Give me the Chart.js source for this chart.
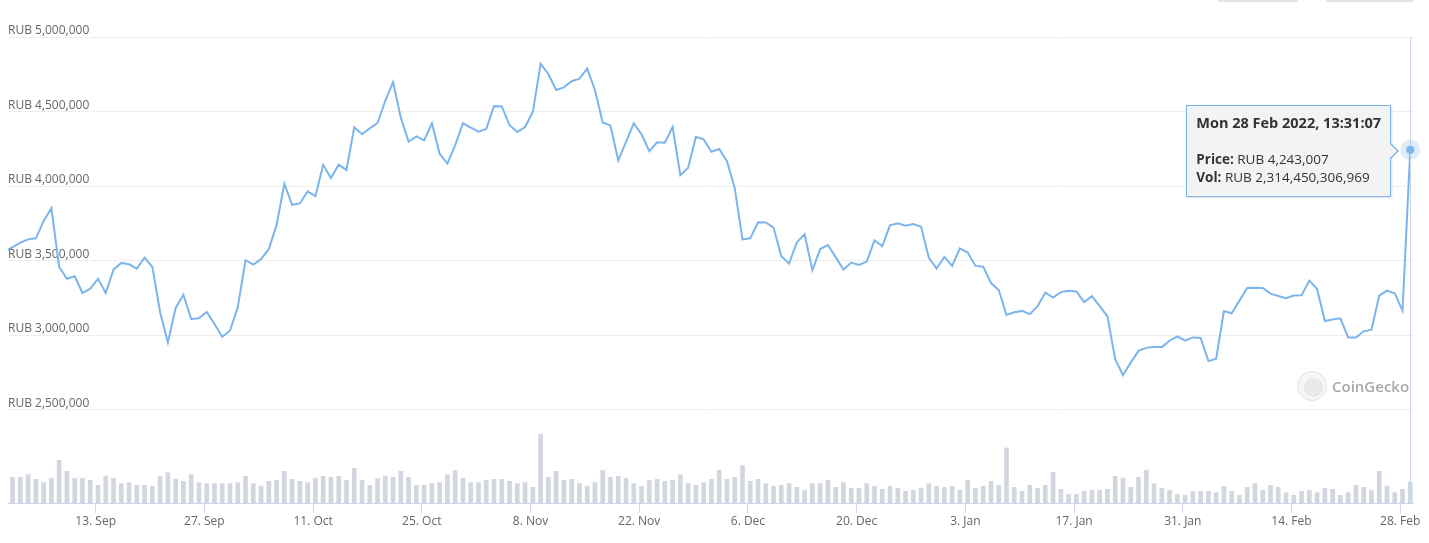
<!DOCTYPE html>
<html>
<head>
<meta charset="utf-8">
<script src="https://cdn.jsdelivr.net/npm/chart.js@4.4.1/dist/chart.umd.min.js"></script>
<style>
  body { margin: 0; background: #fff; font-family: 'Open Sans', sans-serif; }
  #wrap { position: relative; width: 1429px; height: 543px; overflow: hidden; }
  .btn { position: absolute; top: 0; height: 2px; background: #e4e4e4; }
  #tip {
    position: absolute; display: none; box-sizing: border-box;
    width: 205px; height: 92px; padding: 8px 9px 0 9px;
    background: #f3f3f3; border: 1px solid #7cb5ec;
    box-shadow: 1px 1px 2px rgba(0,0,0,0.12);
    font-family: 'Open Sans', sans-serif;
    font-size: 13.5px; line-height: 18px; color: #333; white-space: nowrap;
  }
  #tip .ttl { font-size: 14.5px; font-weight: 700; line-height: 18px; margin-bottom: 18px; }
  #tip b { font-weight: 700; }
  #tip::before {
    content: ''; position: absolute; right: -9px; top: 37px;
    border-left: 8px solid #7cb5ec; border-top: 8px solid transparent; border-bottom: 8px solid transparent;
  }
  #tip::after {
    content: ''; position: absolute; right: -7px; top: 38px;
    border-left: 7px solid #f3f3f3; border-top: 7px solid transparent; border-bottom: 7px solid transparent;
  }
  #logo { position: absolute; left: 1297px; top: 371px; display: flex; align-items: center; }
  #logo .ring { width: 28px; height: 28px; border-radius: 50%; border: 1px solid #e2e2e2; background: radial-gradient(circle at 55% 55%, #e9e9e9 0 9px, #f6f6f6 10px); }
  #logo span { margin-left: 5px; font-size: 15px; font-weight: 600; color: #a9a9a9; }
</style>
</head>
<body>
<div id="wrap">
  <canvas id="price-chart" width="1429" height="543"></canvas>
  <div class="btn" style="left:1218px;width:80px"></div>
  <div class="btn" style="left:1326px;width:87px"></div>
  <div id="logo"><div class="ring"></div><span>CoinGecko</span></div>
  <div id="tip"></div>
</div>
<script>
// days counted from 1 Sep 2021 00:00
const firstDay = 0.3;
const latestLabel = 'Mon 28 Feb 2022, 13:31:07';

const prices = [
  3560000, 3590000, 3620000, 3642000, 3649000, 3766000, 3851000, 3457000, 3378000, 3394000,
  3282000, 3311000, 3378000, 3282000, 3439000, 3484000, 3475000, 3446000, 3520000, 3457000,
  3153000, 2950000, 3182000, 3270000, 3108000, 3113000, 3155000, 3074000, 2989000, 3029000,
  3187000, 3502000, 3473000, 3509000, 3577000, 3739000, 4016000, 3874000, 3883000, 3964000,
  3932000, 4142000, 4054000, 4144000, 4108000, 4394000, 4347000, 4387000, 4423000, 4572000,
  4698000, 4459000, 4297000, 4333000, 4306000, 4421000, 4216000, 4151000, 4275000, 4421000,
  4392000, 4365000, 4383000, 4536000, 4534000, 4408000, 4363000, 4396000, 4498000, 4820000,
  4752000, 4644000, 4662000, 4703000, 4721000, 4788000, 4644000, 4426000, 4405000, 4171000,
  4297000, 4421000, 4347000, 4234000, 4293000, 4291000, 4396000, 4072000, 4122000, 4331000,
  4313000, 4230000, 4248000, 4167000, 3986000, 3642000, 3649000, 3757000, 3755000, 3721000,
  3529000, 3480000, 3622000, 3676000, 3435000, 3577000, 3604000, 3523000, 3439000, 3486000,
  3471000, 3493000, 3635000, 3597000, 3736000, 3750000, 3734000, 3745000, 3727000, 3518000,
  3446000, 3525000, 3464000, 3581000, 3554000, 3464000, 3459000, 3349000, 3302000, 3135000,
  3153000, 3162000, 3140000, 3194000, 3284000, 3252000, 3288000, 3297000, 3293000, 3221000,
  3261000, 3194000, 3126000, 2838000, 2730000, 2815000, 2894000, 2914000, 2921000, 2919000,
  2962000, 2991000, 2962000, 2984000, 2980000, 2825000, 2841000, 3161000, 3146000, 3231000,
  3316000, 3318000, 3316000, 3278000, 3262000, 3247000, 3265000, 3267000, 3365000, 3309000,
  3094000, 3105000, 3112000, 2984000, 2984000, 3025000, 3036000, 3265000, 3298000, 3280000,
  3164000, 4243007
];

const volumes = [
  2.70e12,
  2.83e12, 2.83e12, 3.12e12, 2.61e12, 2.24e12, 2.72e12, 4.70e12, 3.49e12, 2.72e12, 2.72e12,
  2.50e12, 1.94e12, 2.94e12, 2.72e12, 2.13e12, 2.24e12, 1.94e12, 1.94e12, 1.84e12, 2.94e12,
  3.34e12, 2.61e12, 2.39e12, 3.12e12, 2.24e12, 2.13e12, 2.13e12, 2.13e12, 2.13e12, 2.24e12,
  2.94e12, 2.13e12, 1.84e12, 2.39e12, 2.50e12, 3.49e12, 2.61e12, 2.39e12, 2.24e12, 2.72e12,
  2.94e12, 2.83e12, 2.94e12, 2.50e12, 3.82e12, 2.50e12, 1.94e12, 2.68e12, 2.94e12, 2.83e12,
  3.49e12, 2.83e12, 1.94e12, 1.94e12, 2.13e12, 2.24e12, 3.12e12, 3.56e12, 2.72e12, 2.24e12,
  2.24e12, 2.50e12, 2.61e12, 2.61e12, 2.39e12, 2.13e12, 2.24e12, 1.72e12, 7.56e12, 2.83e12,
  3.49e12, 2.50e12, 2.61e12, 2.13e12, 1.84e12, 2.24e12, 3.60e12, 2.83e12, 2.94e12, 2.72e12,
  2.13e12, 1.84e12, 2.50e12, 2.61e12, 2.39e12, 2.50e12, 3.12e12, 2.13e12, 1.94e12, 2.24e12,
  2.61e12, 3.60e12, 2.61e12, 2.83e12, 4.11e12, 2.39e12, 2.61e12, 2.13e12, 1.84e12, 1.94e12,
  2.13e12, 1.72e12, 1.39e12, 2.13e12, 2.13e12, 2.50e12, 1.72e12, 2.24e12, 1.61e12, 1.61e12,
  2.13e12, 1.84e12, 1.50e12, 1.84e12, 1.61e12, 1.28e12, 1.39e12, 1.61e12, 2.13e12, 1.84e12,
  1.72e12, 1.84e12, 1.39e12, 2.50e12, 1.61e12, 1.84e12, 2.39e12, 1.94e12, 6.06e12, 1.72e12,
  1.28e12, 1.94e12, 1.61e12, 1.94e12, 3.38e12, 1.50e12, 0.95e12, 0.95e12, 1.28e12, 1.39e12,
  1.39e12, 1.50e12, 2.94e12, 2.72e12, 1.72e12, 2.83e12, 3.60e12, 2.13e12, 1.61e12, 1.39e12,
  0.95e12, 0.84e12, 1.28e12, 1.28e12, 1.28e12, 1.14e12, 1.84e12, 1.28e12, 0.84e12, 1.72e12,
  2.13e12, 1.39e12, 1.94e12, 1.72e12, 1.14e12, 0.84e12, 1.28e12, 1.39e12, 1.14e12, 1.61e12,
  1.50e12, 0.84e12, 1.14e12, 1.94e12, 1.72e12, 1.39e12, 3.49e12, 1.84e12, 1.14e12, 1.50e12,
  2314450306969
];

const tickDays = [12, 26, 40, 54, 68, 82, 96, 110, 124, 138, 152, 166, 180];
const tickLabels = ['13. Sep', '27. Sep', '11. Oct', '25. Oct', '8. Nov', '22. Nov', '6. Dec',
  '20. Dec', '3. Jan', '17. Jan', '31. Jan', '14. Feb', '28. Feb'];
const priceTicks = [2500000, 3000000, 3500000, 4000000, 4500000, 5000000];

const fmt = v => v.toLocaleString('en-US');
const lineColor = '#7cb5ec';

function externalTip(context) {
  const tt = context.tooltip;
  const el = document.getElementById('tip');
  if (tt.opacity === 0 || !tt.dataPoints || !tt.dataPoints.length) { el.style.display = 'none'; return; }
  const i = tt.dataPoints[0].dataIndex;
  el.innerHTML = '<div class="ttl">' + latestLabel + '</div>' +
    '<b>Price:</b> RUB ' + fmt(prices[i]) + '<br>' +
    '<b>Vol:</b> RUB ' + fmt(volumes[i]);
  el.style.display = 'block';
  el.style.left = (tt.caretX - 224) + 'px';
  el.style.top = (tt.caretY - 45) + 'px';
}

// crosshair + halo on the hovered point
const hoverMark = {
  id: 'hoverMark',
  afterDatasetsDraw(chart) {
    const act = chart.getActiveElements();
    if (!act.length) return;
    const pt = act[0].element;
    const { ctx, chartArea } = chart;
    ctx.save();
    const x = Math.round(pt.x) + 0.5;
    ctx.strokeStyle = '#ccd6eb';
    ctx.lineWidth = 1;
    ctx.beginPath();
    ctx.moveTo(x, chartArea.top);
    ctx.lineTo(x, chartArea.bottom);
    ctx.stroke();
    ctx.fillStyle = 'rgba(124,181,236,0.25)';
    ctx.beginPath(); ctx.arc(pt.x, pt.y, 10, 0, Math.PI * 2); ctx.fill();
    ctx.fillStyle = lineColor;
    ctx.beginPath(); ctx.arc(pt.x, pt.y, 4, 0, Math.PI * 2); ctx.fill();
    ctx.restore();
  }
};

const ctx = document.getElementById('price-chart').getContext('2d');

const chart = new Chart(ctx, {
  data: {
    datasets: [
      {
        type: 'line',
        label: 'Price',
        data: prices.map((p, i) => ({ x: firstDay + i, y: p })),
        yAxisID: 'y',
        borderColor: lineColor,
        borderWidth: 2,
        pointRadius: 0,
        pointHoverRadius: 0,
        tension: 0,
        order: 0
      },
      {
        type: 'bar',
        label: 'Vol',
        data: volumes.map((v, i) => ({ x: firstDay + i, y: v })),
        yAxisID: 'yVol',
        backgroundColor: '#d2d6de',
        barThickness: 4,
        order: 1
      }
    ]
  },
  options: {
    responsive: false,
    animation: false,
    events: [],
    layout: { padding: { left: 8, right: 16, top: 37, bottom: 0 } },
    plugins: {
      legend: { display: false },
      tooltip: { enabled: false, external: externalTip, mode: 'nearest', intersect: false }
    },
    scales: {
      x: {
        type: 'linear',
        offset: false,
        min: 0.71,
        max: 181.65,
        afterBuildTicks: s => { s.ticks = tickDays.map(v => ({ value: v })); },
        afterFit: s => { s.height = 40; s.paddingLeft = 0; s.paddingRight = 0; },
        ticks: {
          autoSkip: false, maxRotation: 0, padding: 1,
          color: '#666', font: { family: 'Open Sans', size: 12 },
          callback: v => tickLabels[tickDays.indexOf(v)]
        },
        grid: { offset: false, drawOnChartArea: false, tickLength: 10, color: '#ccd6eb' },
        border: { color: '#ccd6eb' }
      },
      y: {
        position: 'left',
        min: 1873000,
        max: 5000000,
        afterBuildTicks: s => { s.ticks = priceTicks.map(v => ({ value: v })); },
        afterFit: s => { s.width = 0; s.paddingTop = 0; s.paddingBottom = 0; },
        ticks: {
          mirror: true, padding: 0, labelOffset: -6,
          color: '#666', font: { family: 'Open Sans', size: 12 },
          callback: v => 'RUB ' + fmt(v)
        },
        grid: { drawTicks: false, color: '#eeeeee' },
        border: { display: false }
      },
      yVol: { display: false, min: 0, max: 51.3e12 }
    }
  },
  plugins: [hoverMark]
});

const last = prices.length - 1;
chart.setActiveElements([{ datasetIndex: 0, index: last }]);
chart.tooltip.setActiveElements([{ datasetIndex: 0, index: last }], { x: 0, y: 0 });
chart.update();
</script>
</body>
</html>
